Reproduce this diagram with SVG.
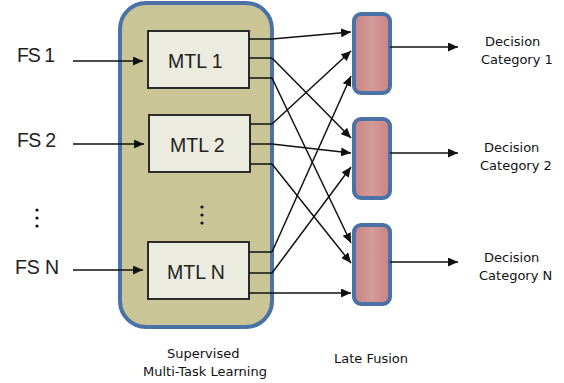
<svg xmlns="http://www.w3.org/2000/svg" width="564" height="383" viewBox="0 0 564 383">
  <style>
    .lbl { font-family: "Liberation Sans", Arial, sans-serif; font-size: 19.5px; fill: #222; }
    .cap { font-family: "DejaVu Sans", Verdana, sans-serif; font-size: 13px; fill: #111; }
    .mtl { fill: #ecebdf; stroke: #2a2a2a; stroke-width: 2; }
    .fus { fill: url(#fg); stroke: #4a72a6; stroke-width: 4; }
    .con { fill: none; stroke: #111; stroke-width: 1.5; }
    .arr { marker-end: url(#ah); }
    .dot { fill: #111; }
  </style>
  <defs>
    <marker id="ah" viewBox="0 0 10 9" refX="10" refY="4.5" markerWidth="10" markerHeight="9" markerUnits="userSpaceOnUse" orient="auto">
      <path d="M0,0 L10,4.5 L0,9 z" fill="#111"/>
    </marker>
    <linearGradient id="fg" x1="0" y1="0" x2="1" y2="0">
      <stop offset="0" stop-color="#c98484"/>
      <stop offset="0.5" stop-color="#d39a98"/>
      <stop offset="1" stop-color="#c98484"/>
    </linearGradient>
  </defs>

  <g id="container">
    <rect x="120" y="3" width="152" height="324" rx="26" fill="#c9c596" stroke="#4a72a6" stroke-width="4"/>
    <circle class="dot" cx="202" cy="207" r="1.6"/>
    <circle class="dot" cx="202" cy="215" r="1.6"/>
    <circle class="dot" cx="202" cy="223" r="1.6"/>
  </g>

  <g id="fs1"><text class="lbl" x="17" y="62" textLength="38">FS 1</text></g>
  <g id="fs2"><text class="lbl" x="17" y="147" textLength="39">FS 2</text></g>
  <g id="fsdots">
    <circle class="dot" cx="37" cy="210" r="1.6"/>
    <circle class="dot" cx="37" cy="218" r="1.6"/>
    <circle class="dot" cx="37" cy="226" r="1.6"/>
  </g>
  <g id="fsn"><text class="lbl" x="15" y="274" textLength="44">FS N</text></g>

  <g id="mtl1">
    <rect class="mtl" x="148" y="31" width="101" height="57"/>
    <text class="lbl" x="168" y="68">MTL 1</text>
  </g>
  <g id="mtl2">
    <rect class="mtl" x="149" y="115" width="101" height="57"/>
    <text class="lbl" x="170" y="152">MTL 2</text>
  </g>
  <g id="mtln">
    <rect class="mtl" x="148" y="242" width="101" height="57"/>
    <text class="lbl" x="167" y="279">MTL N</text>
  </g>

  <g id="fusion1"><rect class="fus" x="354" y="14" width="36" height="79" rx="7"/></g>
  <g id="fusion2"><rect class="fus" x="354" y="119" width="36" height="79" rx="7"/></g>
  <g id="fusionn"><rect class="fus" x="354" y="225" width="36" height="79" rx="7"/></g>

  <g id="out1">
    <text class="cap" x="485" y="46">Decision</text>
    <text class="cap" x="481" y="64">Category 1</text>
  </g>
  <g id="out2">
    <text class="cap" x="484" y="152">Decision</text>
    <text class="cap" x="480" y="170">Category 2</text>
  </g>
  <g id="outn">
    <text class="cap" x="484" y="262">Decision</text>
    <text class="cap" x="479" y="280">Category N</text>
  </g>

  <g id="caption-mtl">
    <text class="cap" x="167" y="358">Supervised</text>
    <text class="cap" x="143" y="376">Multi-Task Learning</text>
  </g>
  <g id="caption-fusion">
    <text class="cap" x="334" y="363">Late Fusion</text>
  </g>

  <g id="connectors">
    <!-- inputs -->
    <path class="con arr" d="M73,61 H143"/>
    <path class="con arr" d="M73,144 H144"/>
    <path class="con arr" d="M73,270 H143"/>
    <!-- stubs -->
    <path class="con" d="M249,39 H272 M249,58 H272 M249,78 H272"/>
    <path class="con" d="M250,124 H272 M250,144 H272 M250,164 H272"/>
    <path class="con" d="M249,252 H272 M249,273 H272"/>
    <!-- to fusion 1 -->
    <path class="con arr" d="M272,39 L351,32"/>
    <path class="con arr" d="M272,124 L351,51"/>
    <path class="con arr" d="M272,252 L351,76"/>
    <!-- to fusion 2 -->
    <path class="con arr" d="M272,58 L351,138"/>
    <path class="con arr" d="M272,144 L351,153"/>
    <path class="con arr" d="M272,273 L351,167"/>
    <!-- to fusion N -->
    <path class="con arr" d="M272,78 L351,243"/>
    <path class="con arr" d="M272,164 L351,263"/>
    <path class="con arr" d="M249,293 H351"/>
    <!-- outputs -->
    <path class="con arr" d="M390,47 H458"/>
    <path class="con arr" d="M390,153 H458"/>
    <path class="con arr" d="M390,262 H458"/>
  </g>
</svg>
